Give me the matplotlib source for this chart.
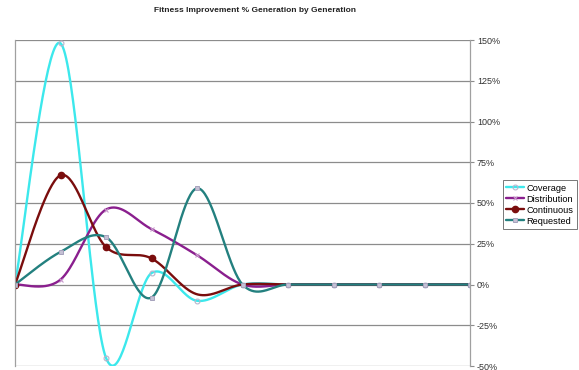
import numpy as np
import matplotlib
matplotlib.use("Agg")
import matplotlib.pyplot as plt

plt.rcParams['font.family'] = ['Liberation Sans', 'DejaVu Sans']

generations = list(range(11))

coverage = [0, 148, -45, 7, -10, 0, 0, 0, 0, 0, 0]
distribution = [0, 3, 46, 34, 18, 0, 0, 0, 0, 0, 0]
continuous = [0, 67, 23, 16, -6, 0, 0, 0, 0, 0, 0]
requested = [0, 20, 29, -8, 59, 0, 0, 0, 0, 0, 0]

y_ticks = [-50, -25, 0, 25, 50, 75, 100, 125, 150]
y_tick_labels = ['-50%', '-25%', '0%', '25%', '50%', '75%', '100%', '125%', '150%']


def smooth(xs, ys, steps=40):
    # spreadsheet-style smoothed line: cubic Bezier through each point,
    # control points from neighbouring points (tension 1/6)
    xs = np.asarray(xs, dtype=float)
    ys = np.asarray(ys, dtype=float)
    pts = np.column_stack([xs, ys])
    n = len(pts)
    out = [pts[0]]
    t = np.linspace(0, 1, steps + 1)[1:, None]
    for i in range(n - 1):
        p0 = pts[i - 1] if i > 0 else pts[i]
        p1 = pts[i]
        p2 = pts[i + 1]
        p3 = pts[i + 2] if i + 2 < n else pts[i + 1]
        c1 = p1 + (p2 - p0) / 6.0
        c2 = p2 - (p3 - p1) / 6.0
        seg = ((1 - t) ** 3) * p1 + 3 * ((1 - t) ** 2) * t * c1 \
            + 3 * (1 - t) * t ** 2 * c2 + t ** 3 * p2
        out.extend(seg)
    out = np.array(out)
    knots = [i * steps for i in range(n)]
    return out[:, 0], out[:, 1], knots


fig = plt.figure(figsize=(5.79, 3.70), dpi=100)
ax = fig.add_axes([15 / 579, 1 - 366 / 370, (470 - 15) / 579, (366 - 40) / 370])

series = [
    ('Coverage', coverage, '#3ce8ec', None,
     dict(marker='o', ms=3.5, mfc='none', mec='#b8b4cc', mew=0.8)),
    ('Distribution', distribution, '#8a1f8e', None,
     dict(marker='x', ms=3, mec='#c898cc', mew=0.8)),
    ('Continuous', continuous, '#7a0d0d', 4,
     dict(marker='o', ms=4.5, mfc='#7a0d0d', mec='#7a0d0d')),
    ('Requested', requested, '#23807f', None,
     dict(marker='s', ms=3.5, mfc='#c4c0d4', mec='#a6a2bc', mew=0.7)),
]

for name, vals, color, n_marks, mk in series:
    sx, sy, knots = smooth(generations, vals)
    if n_marks is not None:
        knots = knots[:n_marks]
    ax.plot(sx, sy, color=color, lw=1.7, label=name, markevery=knots,
            solid_capstyle='round', **mk)

ax.set_xlim(0, 10)
ax.set_ylim(-50, 150)
ax.set_yticks(y_ticks)
ax.set_yticklabels(y_tick_labels)
ax.yaxis.tick_right()
ax.tick_params(axis='y', direction='out', length=3, width=0.8, color='#8c8c8c',
               labelsize=6.5, labelcolor='#333333', pad=2)
ax.set_xticks([])

ax.grid(axis='y', color='#8c8c8c', lw=0.9)
ax.set_axisbelow(True)
for side in ['top', 'bottom']:
    ax.spines[side].set_visible(False)
for side in ['left', 'right']:
    ax.spines[side].set_color('#a0a0a0')
    ax.spines[side].set_linewidth(0.9)

fig.text(0.44, 1 - 11 / 370, 'Fitness Improvement % Generation by Generation',
         ha='center', va='center', fontsize=6, fontweight='bold', color='#222222')

leg = fig.legend(loc='lower left', mode='expand',
                 bbox_to_anchor=(503 / 579, 1 - 229 / 370, (577 - 503) / 579, (229 - 177) / 370),
                 fontsize=6.7, handlelength=1.9, handletextpad=0.3, borderpad=0.35,
                 labelspacing=0.22, borderaxespad=0, fancybox=False, frameon=True)
leg.get_frame().set_edgecolor('#555555')
leg.get_frame().set_linewidth(0.7)

fig.savefig('out.png', dpi=100)
